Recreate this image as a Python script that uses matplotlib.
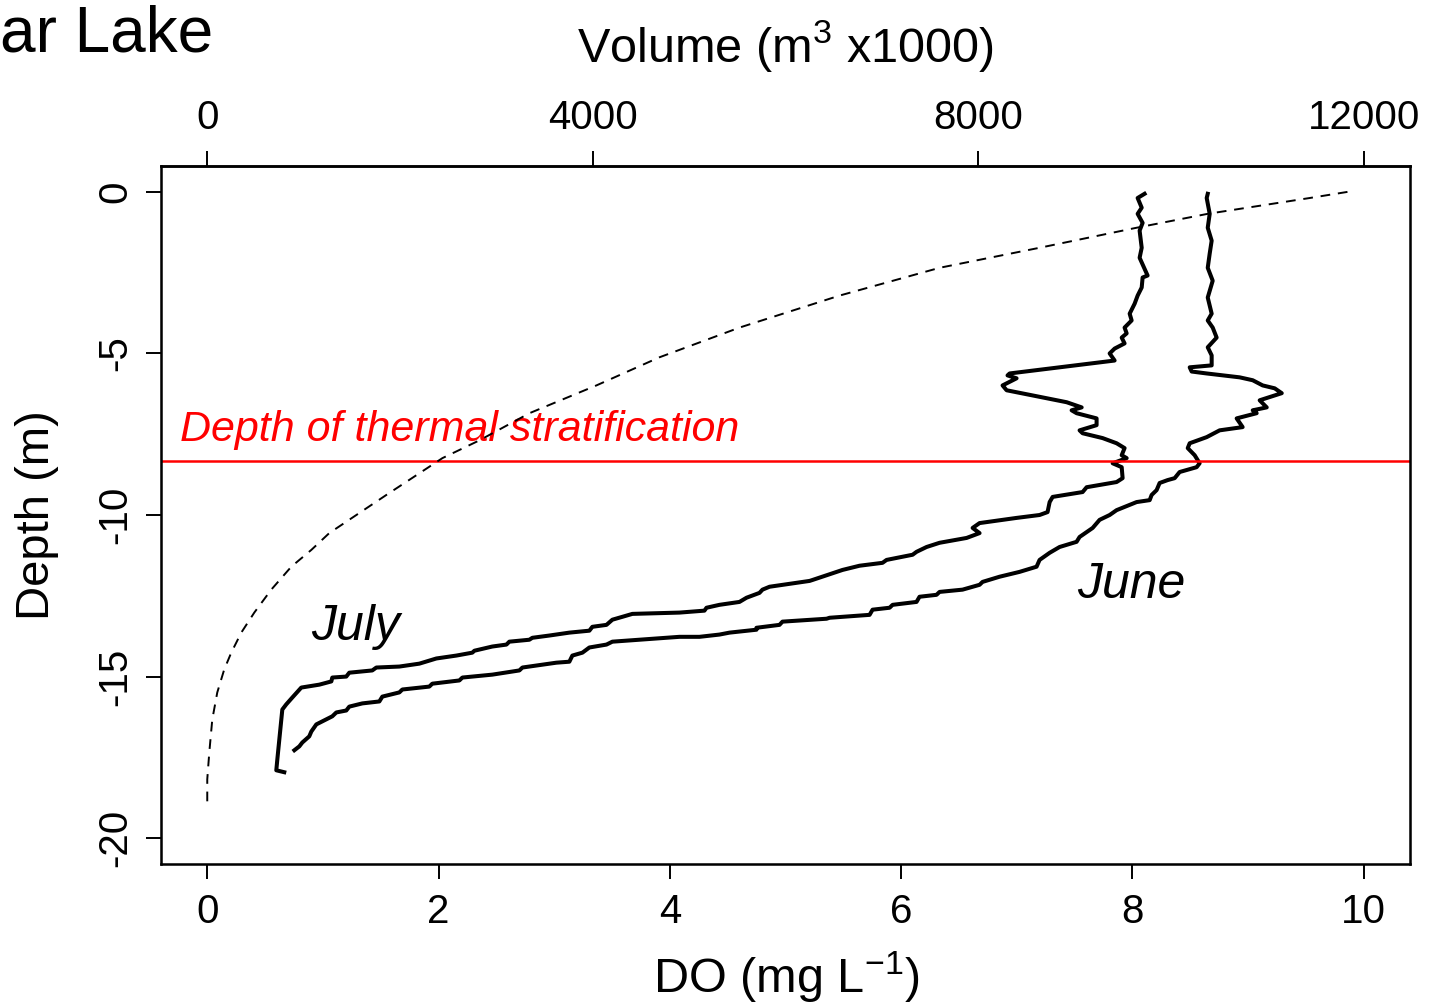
import matplotlib
matplotlib.use('Agg')
import matplotlib.pyplot as plt

plt.rcParams.update({
    "font.family": "Liberation Sans",
    "mathtext.fontset": "custom",
    "mathtext.rm": "Liberation Sans",
    "mathtext.it": "Liberation Sans:italic",
    "axes.unicode_minus": False,
})

# July DO profile (mg/L) vs depth (m)
july_do = [8.105, 8.045, 8.080, 8.045, 8.088, 8.062, 8.080, 8.062, 8.131, 8.088,
           8.080, 8.045, 8.019, 7.976, 7.993, 7.932, 7.950, 7.907, 7.932, 7.846,
           7.803, 7.846, 6.938, 6.920, 6.998, 6.877, 6.912, 7.137, 7.431, 7.561,
           7.474, 7.517, 7.690, 7.690, 7.543, 7.569, 7.742, 7.863, 7.932, 7.907,
           7.950, 7.829, 7.907, 7.915, 7.863, 7.604, 7.569, 7.310, 7.284, 7.266,
           7.197, 6.998, 6.678, 6.618, 6.678, 6.566, 6.332, 6.220, 6.133, 6.099,
           5.874, 5.839, 5.640, 5.493, 5.234, 5.208, 4.862, 4.801, 4.775, 4.663,
           4.602, 4.429, 4.317, 4.299, 4.083, 3.676, 3.590, 3.503, 3.452, 3.330,
           3.304, 3.131, 2.958, 2.811, 2.785, 2.612, 2.587, 2.465, 2.310, 2.292,
           2.154, 1.981, 1.834, 1.661, 1.462, 1.427, 1.228, 1.202, 1.081, 1.073,
           0.969, 0.813, 0.735, 0.683, 0.649, 0.606, 0.597, 0.666]
july_depth = [-0.06, -0.19, -0.49, -0.68, -0.96, -1.20, -1.73, -2.04, -2.59, -2.65,
              -2.96, -3.21, -3.46, -3.77, -3.98, -4.20, -4.38, -4.51, -4.69, -4.85,
              -5.00, -5.22, -5.62, -5.68, -5.77, -5.99, -6.14, -6.30, -6.51, -6.67,
              -6.76, -6.85, -7.01, -7.22, -7.38, -7.47, -7.62, -7.78, -7.93, -8.15,
              -8.24, -8.40, -8.52, -8.86, -8.98, -9.14, -9.29, -9.44, -9.60, -9.91,
              -10.00, -10.09, -10.25, -10.40, -10.56, -10.71, -10.86, -10.99, -11.14, -11.23,
              -11.39, -11.48, -11.57, -11.70, -12.01, -12.04, -12.22, -12.31, -12.41, -12.56,
              -12.69, -12.78, -12.87, -12.96, -13.02, -13.06, -13.15, -13.24, -13.40, -13.46,
              -13.58, -13.64, -13.73, -13.80, -13.86, -13.92, -14.01, -14.07, -14.20, -14.26,
              -14.35, -14.44, -14.60, -14.69, -14.72, -14.81, -14.88, -15.00, -15.03, -15.15,
              -15.25, -15.34, -15.65, -15.86, -16.02, -17.56, -17.90, -17.96]

# June DO profile
june_do = [8.651, 8.642, 8.668, 8.651, 8.685, 8.668, 8.651, 8.694, 8.651, 8.685,
           8.651, 8.694, 8.728, 8.651, 8.685, 8.685, 8.495, 8.512, 8.642, 8.927,
           9.040, 9.126, 9.230, 9.291, 9.100, 9.161, 9.040, 9.074, 8.901, 8.953,
           8.754, 8.642, 8.495, 8.478, 8.538, 8.581, 8.555, 8.408, 8.365, 8.304,
           8.235, 8.209, 8.166, 8.149, 8.036, 7.863, 7.803, 7.716, 7.656, 7.543,
           7.517, 7.370, 7.284, 7.197, 7.171, 7.024, 6.851, 6.704, 6.678, 6.531,
           6.332, 6.306, 6.159, 6.133, 5.926, 5.900, 5.753, 5.727, 5.381, 5.355,
           4.974, 4.948, 4.749, 4.749, 4.516, 4.429, 4.256, 4.083, 3.503, 3.452,
           3.304, 3.244, 3.157, 3.131, 3.019, 2.725, 2.699, 2.465, 2.206, 2.180,
           1.946, 1.920, 1.687, 1.661, 1.514, 1.488, 1.341, 1.228, 1.202, 1.116,
           1.081, 0.943, 0.900, 0.882, 0.822, 0.796, 0.753]
june_depth = [-0.06, -0.19, -0.68, -1.11, -1.51, -1.91, -2.35, -2.75, -3.27, -3.77,
              -3.98, -4.20, -4.51, -4.81, -5.06, -5.37, -5.43, -5.56, -5.62, -5.74,
              -5.83, -5.99, -6.08, -6.23, -6.45, -6.67, -6.76, -6.85, -7.01, -7.28,
              -7.38, -7.59, -7.78, -7.93, -8.15, -8.40, -8.52, -8.67, -8.86, -8.92,
              -9.01, -9.23, -9.38, -9.54, -9.60, -9.85, -10.00, -10.15, -10.40, -10.68,
              -10.83, -10.99, -11.17, -11.39, -11.60, -11.76, -11.91, -12.07, -12.16, -12.31,
              -12.38, -12.47, -12.53, -12.69, -12.78, -12.87, -12.93, -13.09, -13.18, -13.21,
              -13.30, -13.40, -13.49, -13.55, -13.64, -13.70, -13.77, -13.77, -13.92, -14.01,
              -14.10, -14.26, -14.35, -14.54, -14.57, -14.72, -14.81, -14.94, -15.03, -15.12,
              -15.22, -15.31, -15.40, -15.49, -15.62, -15.77, -15.83, -15.93, -16.05, -16.11,
              -16.23, -16.48, -16.70, -16.85, -17.04, -17.16, -17.28]

# hypsographic volume (m3 x1000) vs depth
vol = [0, 0, 21, 52, 104, 176, 249, 353, 488, 664, 872, 1080, 1266, 1858,
       2440, 2824, 3343, 4038, 4692, 5523, 6561, 7599, 8118, 8637, 9644, 10381,
       11440, 11834]
vol_depth = [-18.86, -18.18, -17.35, -16.33, -15.49, -14.78, -14.26, -13.64, -13.02,
             -12.31, -11.60, -11.08, -10.56, -9.38, -8.24, -7.69, -6.85, -5.99, -5.12,
             -4.20, -3.21, -2.35, -2.04, -1.73, -1.11, -0.68, -0.19, 0.0]

thermocline = -8.33

fig = plt.figure(figsize=(14.29, 10.06), dpi=100)
ax = fig.add_axes([161 / 1429, 1 - 864 / 1006, (1410 - 161) / 1429, (864 - 166) / 1006])

ax.plot(july_do, july_depth, color='black', lw=2.9, solid_joinstyle='round')
ax.plot(june_do, june_depth, color='black', lw=2.9, solid_joinstyle='round')
ax.axhline(thermocline, color='red', lw=1.8)

ax.set_xlim(-0.4, 10.4)
ax.set_ylim(-20.8, 0.8)
ax.set_xticks([0, 2, 4, 6, 8, 10])
ax.set_yticks([0, -5, -10, -15, -20])
ax.tick_params(direction='out', length=11, width=1.4, labelsize=29, pad=10)
ax.tick_params(axis='y', pad=8)
for lab in ax.get_yticklabels():
    lab.set_rotation(90)
    lab.set_va('center')
for s in ax.spines.values():
    s.set_linewidth(1.8)

ax2 = ax.twiny()
ax2.plot(vol, vol_depth, color='black', lw=1.4, ls=(0, (5, 4)))
ax2.set_xlim(-0.4 * 1200, 10.4 * 1200)
ax2.set_xticks([0, 4000, 8000, 12000])
ax2.tick_params(direction='out', length=11, width=1.4, labelsize=29, pad=10)
ax2.spines['top'].set_linewidth(1.8)

ax.text(-0.24, -7.72, 'Depth of thermal stratification', color='red',
        fontsize=31, style='italic', va='baseline')
ax.text(0.90, -13.86, 'July', fontsize=36, style='italic', va='baseline')
ax.text(7.52, -12.56, 'June', fontsize=36, style='italic', va='baseline')

fig.text(0.0, 1 - 51 / 1006, 'ar Lake', fontsize=46, va='baseline', ha='left')
fig.text(785 / 1429, 1 - 62 / 1006, r'Volume (m$^{3}$ x1000)', fontsize=35,
         ha='center', va='baseline')
fig.text(786 / 1429, 1 - 993 / 1006, r'DO (mg L$^{-1}$)', fontsize=35,
         ha='center', va='baseline')
fig.text(37 / 1429, 1 - 515 / 1006, 'Depth (m)', fontsize=34, rotation=90,
         ha='center', va='center')

plt.savefig('out.png', dpi=100, facecolor='white')
